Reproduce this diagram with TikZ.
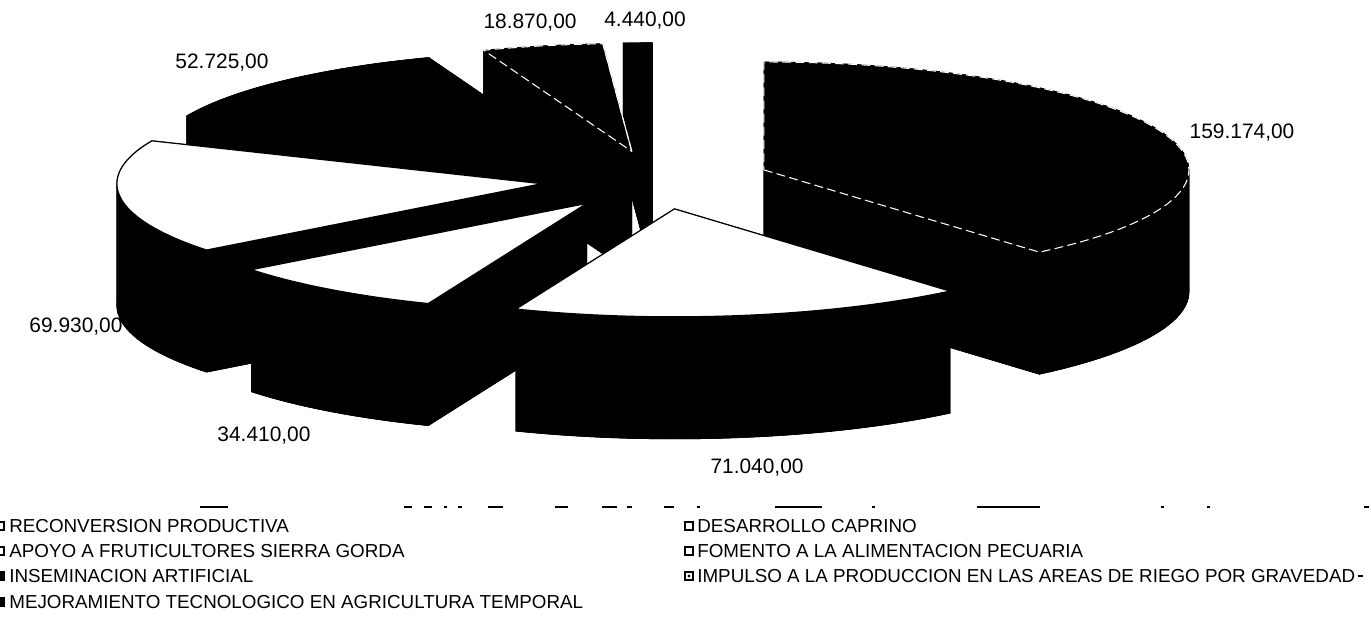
\documentclass[tikz,border=0pt]{standalone}
\usepackage{fontspec}
\setmainfont{Liberation Sans}
\def\Cx{656}\def\Cy{-180}\def\dd{115}\def\ra{425}\def\rb{108}\def\hh{122}
\newcommand\pieslice[3]{%
 \pgfmathsetmacro\sm{(#1+#2)/2}%
 \pgfmathsetmacro\sX{\Cx+\dd*cos(\sm)}%
 \pgfmathsetmacro\sY{\Cy+\dd*\rb/\ra*sin(\sm)}%
 % bottom face
 \path[blk] ({\sX},{\sY-\hh}) -- plot[domain=#1:#2,samples=60] ({\sX+\ra*cos(\x)},{\sY-\hh+\rb*sin(\x)}) -- cycle;
 % outer side, swept in small pieces
 \pgfmathtruncatemacro\nst{max(2,ceil(abs(#2-#1)/2))}%
 \foreach \k in {1,...,\nst}{%
   \pgfmathsetmacro\ta{#1+(\k-1)*(#2-#1)/\nst}%
   \pgfmathsetmacro\tb{#1+\k*(#2-#1)/\nst}%
   \path[blk] ({\sX+\ra*cos(\ta)},{\sY+\rb*sin(\ta)}) -- ({\sX+\ra*cos(\tb)},{\sY+\rb*sin(\tb)}) -- ({\sX+\ra*cos(\tb)},{\sY-\hh+\rb*sin(\tb)}) -- ({\sX+\ra*cos(\ta)},{\sY-\hh+\rb*sin(\ta)}) -- cycle;
 }
 % cut faces
 \path[blk] ({\sX},{\sY}) -- ({\sX+\ra*cos(#1)},{\sY+\rb*sin(#1)}) -- ({\sX+\ra*cos(#1)},{\sY-\hh+\rb*sin(#1)}) -- ({\sX},{\sY-\hh}) -- cycle;
 \path[blk] ({\sX},{\sY}) -- ({\sX+\ra*cos(#2)},{\sY+\rb*sin(#2)}) -- ({\sX+\ra*cos(#2)},{\sY-\hh+\rb*sin(#2)}) -- ({\sX},{\sY-\hh}) -- cycle;
 % top face
 \path[#3] ({\sX},{\sY}) -- plot[domain=#1:#2,samples=60] ({\sX+\ra*cos(\x)},{\sY+\rb*sin(\x)}) -- cycle;
 \coordinate (apex) at ({\sX},{\sY});
 \coordinate (rimA) at ({\sX+\ra*cos(#1)},{\sY+\rb*sin(#1)});
}
\tikzset{
 blk/.style={fill=black,draw=black,line width=0.4pt,line join=round},
 topwhite/.style={fill=white,draw=black,line width=0.7pt,line join=round},
 topdark/.style={fill=black,draw=white,line width=0.6pt,dash pattern=on 5pt off 2.5pt},
 val/.style={font=\fontsize{11.9}{14}\selectfont,inner sep=0pt,text depth=0pt},
 leg/.style={font=\fontsize{10.7}{13}\selectfont,anchor=west,inner sep=0pt},
 mk/.style={draw=black,line width=1.1pt,fill=white,minimum width=0.17cm,minimum height=0.17cm,inner sep=0pt},
 mkfull/.style={mk,fill=black},
 scan/.style={line width=1.4pt},
 rimline/.style={draw=white,line width=0.6pt}
}
\begin{document}
\begin{tikzpicture}[x=0.02cm,y=0.02cm]
\useasboundingbox (0,0) rectangle (1371,-627);
\clip (0,0) rectangle (1371,-627);
\fill[white] (0,0) rectangle (1371,-627);
% slices, back to front
\pieslice{90}{93.9}{blk}
\pieslice{110.4}{156.6}{blk}
\pieslice{93.9}{110.4}{topdark}
\draw[rimline] (rimA) -- (apex);
\pieslice{-49.6}{90}{topdark}
\pieslice{156.6}{217.9}{topwhite}
\pieslice{-142.1}{-111.9}{topwhite}
\pieslice{-111.9}{-49.6}{topwhite}
% value labels
\node[val] (v1) at (1242,-131) {159.174,00};
\node[val] (v2) at (757,-466) {71.040,00};
\node[val] (v3) at (264,-434) {34.410,00};
\node[val] (v4) at (76,-325) {69.930,00};
\node[val] (v5) at (222,-61) {52.725,00};
\node[val] (v6) at (530,-21) {18.870,00};
\node[val] (v7) at (645,-19) {4.440,00};
% scan remnants
\foreach \a/\b in {200/228,404/412,424/432,444/447,458/462,488/503,555/568,602/617,627/632,664/674,697/700,775/822,872/875,977/1040,1161/1164,1207/1210,1364/1369}
  \draw[scan] (\a,-507) -- (\b,-507);
% legend
\node[mk] (m1) at (0,-526) {};
\node[leg] (l1) at (9,-526) {RECONVERSION PRODUCTIVA};
\node[mk] (m2) at (0,-551) {};
\node[leg] (l2) at (9,-551) {APOYO A FRUTICULTORES SIERRA GORDA};
\node[mkfull] (m3) at (0,-576) {};
\node[leg] (l3) at (9,-576) {INSEMINACION ARTIFICIAL};
\node[mkfull] (m4) at (0,-602) {};
\node[leg] (l4) at (9,-602) {MEJORAMIENTO TECNOLOGICO EN AGRICULTURA TEMPORAL};
\node[mk] (m5) at (689,-526) {};
\node[leg] (l5) at (697,-526) {DESARROLLO CAPRINO};
\node[mk] (m6) at (689,-551) {};
\node[leg] (l6) at (697,-551) {FOMENTO A LA ALIMENTACION PECUARIA};
\node[mk] (m7) at (689,-576) {};
\fill (m7.center) circle[radius=1.6];
\node[leg] (l7) at (697,-576) {IMPULSO A LA PRODUCCION EN LAS AREAS DE RIEGO POR GRAVEDAD};
\draw[line width=0.8pt] (l7.east) ++(2,0) -- ++(5,0);
\end{tikzpicture}
\end{document}
